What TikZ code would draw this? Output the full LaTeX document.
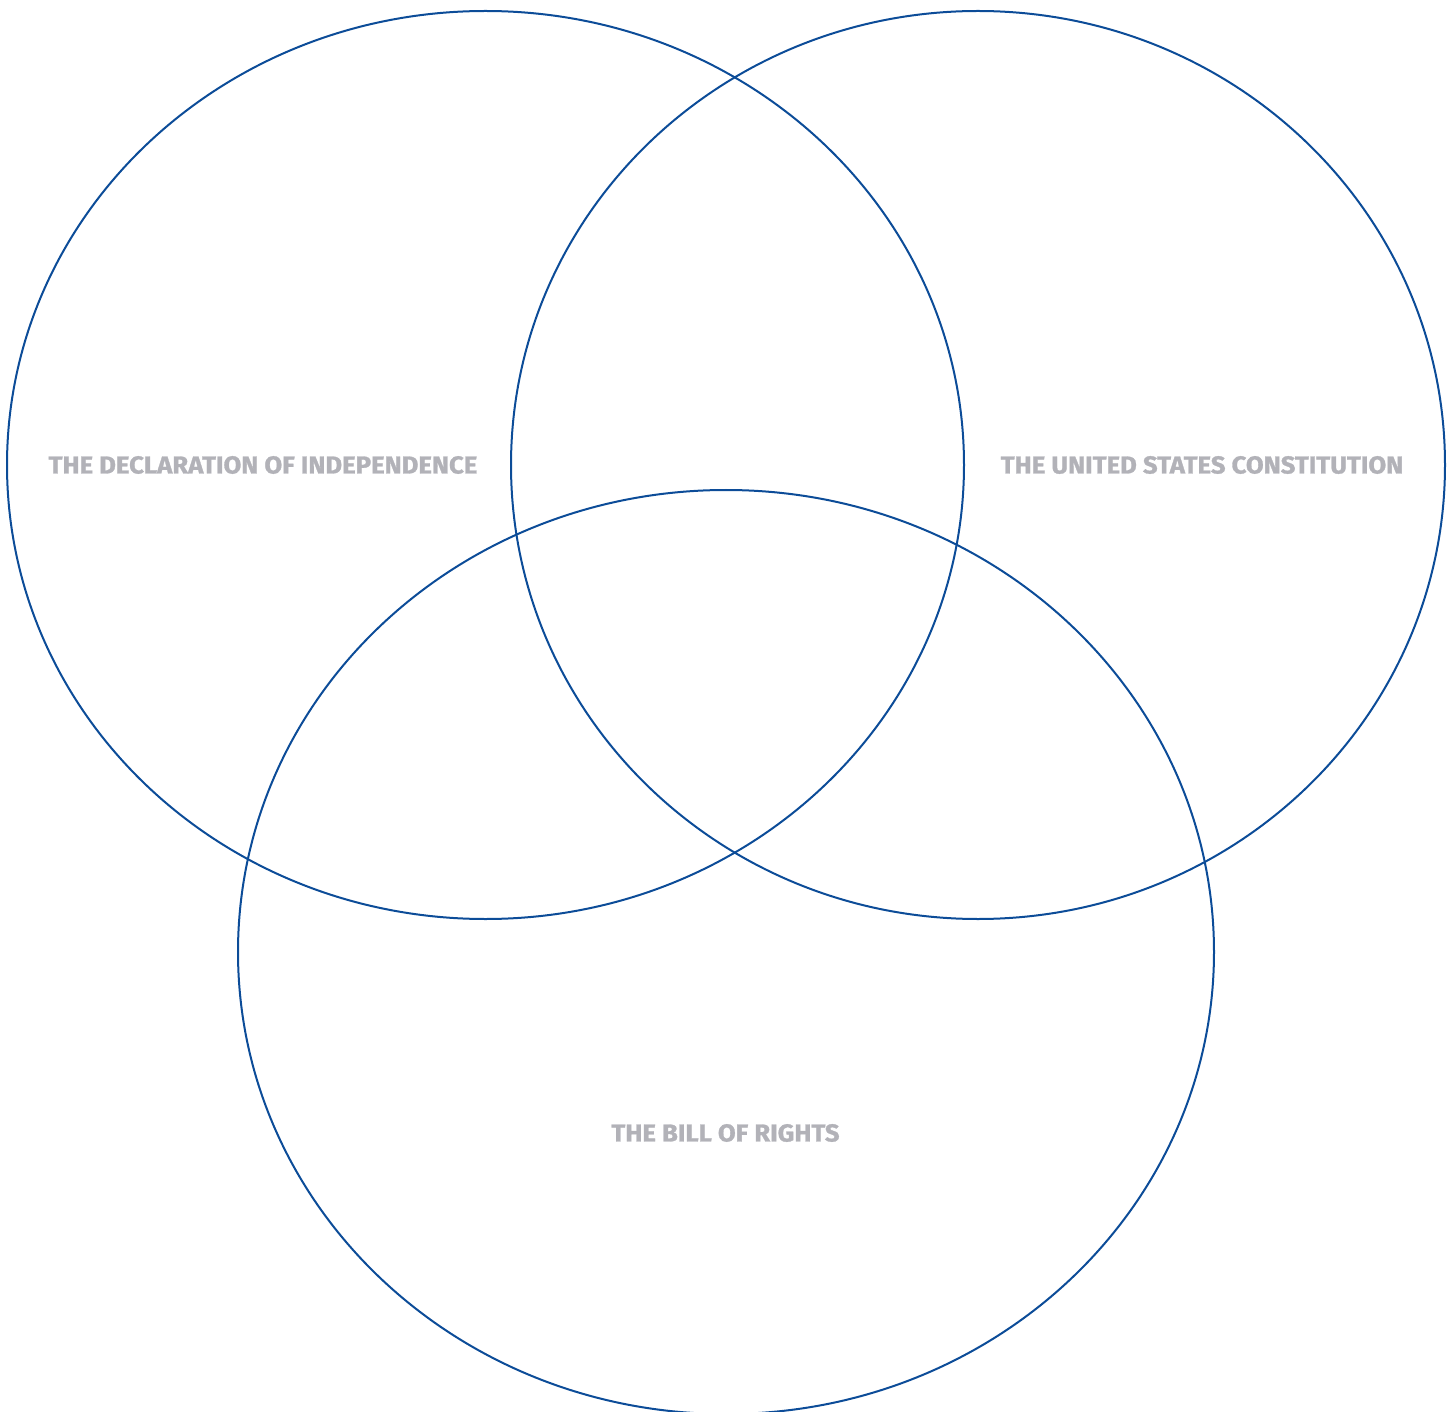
\documentclass[tikz,border=0pt]{standalone}
\usepackage{fontspec}
\usepackage{tikz}
\usepackage{xcolor}
\usetikzlibrary{positioning}
\newfontfamily\labelfont{Fira Sans}[FakeStretch=1.05, BoldFeatures={FakeBold=1.2}]
\definecolor{vennblue}{RGB}{12,76,152}
\definecolor{labelgray}{RGB}{178,178,184}

\begin{document}
\begin{tikzpicture}[x=1pt,y=-1pt,
    ring/.style={draw=vennblue, line width=2pt},
    doclabel/.style={text=labelgray, font=\labelfont\bfseries\fontsize{24.5}{28}\selectfont, inner sep=0pt}]
    \useasboundingbox (0,0) rectangle (1452,1412);
    \begin{scope}
    \clip (0,0) rectangle (1452,1412);
    % Declaration - left ring
    \draw[ring] (485.5,465) ellipse [x radius=478.5, y radius=454];
    % Constitution - right ring
    \draw[ring] (978,465) ellipse [x radius=467, y radius=454];
    % Bill of Rights - bottom ring
    \draw[ring] (726,952) ellipse [x radius=488, y radius=462];
    \end{scope}
    % Labels
    \node[doclabel] (decl) at (263,465) {THE DECLARATION OF INDEPENDENCE};
    \node[doclabel] (const) at (1202,465) {THE UNITED STATES CONSTITUTION};
    \node[doclabel] (bill) at (725.5,1133) {THE BILL OF RIGHTS};
\end{tikzpicture}
\end{document}
